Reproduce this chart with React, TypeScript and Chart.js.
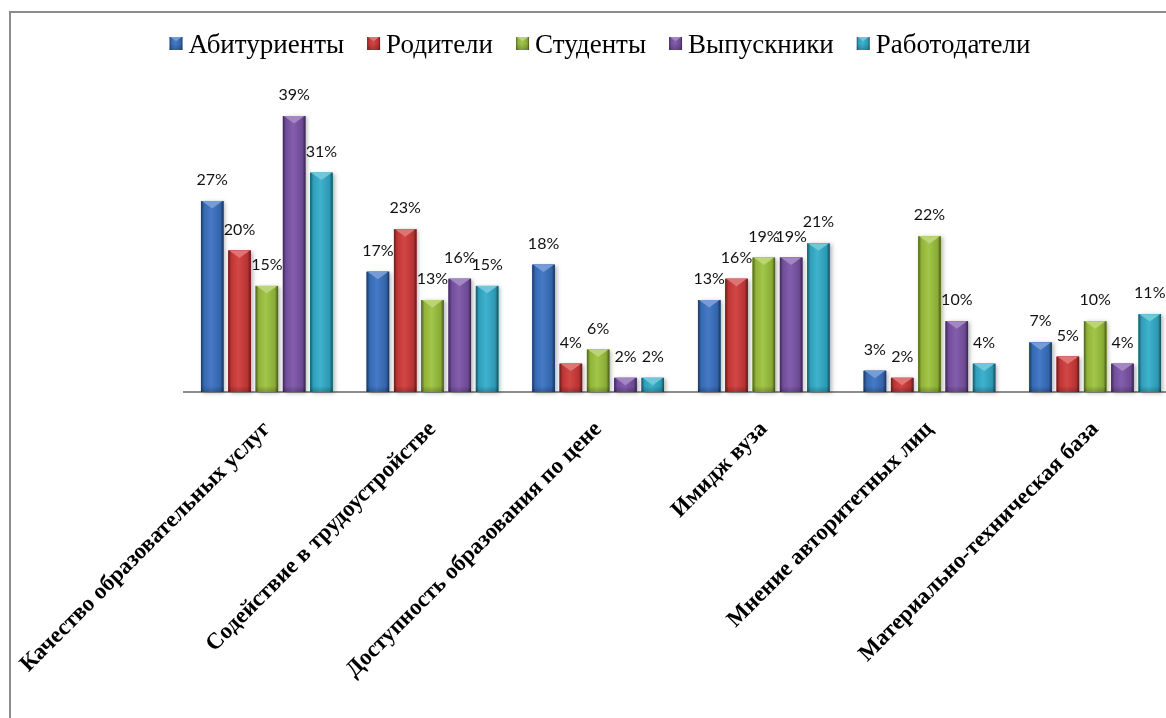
import React, { useEffect, useRef } from 'react';
import { Chart, registerables } from 'chart.js';

Chart.register(...registerables);

const categories = [
  'Качество образовательных услуг',
  'Содействие в трудоустройстве',
  'Доступность образования по цене',
  'Имидж вуза',
  'Мнение авторитетных лиц',
  'Материально-техническая база',
];
const seriesNames = ['Абитуриенты', 'Родители', 'Студенты', 'Выпускники', 'Работодатели'];
const abiturienty = [27, 17, 18, 13, 3, 7];
const roditeli = [20, 23, 4, 16, 2, 5];
const studenty = [15, 13, 6, 19, 22, 10];
const vypuskniki = [39, 16, 2, 19, 10, 4];
const rabotodateli = [31, 15, 2, 21, 4, 11];
const seriesColors = ['#3a72c2', '#d03a3a', '#9cc23d', '#7c54a8', '#33adcb'];
const yMax = 40;

const W = 1180;
const H = 705;
const AREA_BOTTOM = 379;

function shade(hex: string, amt: number) {
  const n = parseInt(hex.slice(1), 16);
  let r = n >> 16, g = (n >> 8) & 255, b = n & 255;
  const t = amt < 0 ? 0 : 255;
  const p = Math.abs(amt);
  r = Math.round(r + (t - r) * p);
  g = Math.round(g + (t - g) * p);
  b = Math.round(b + (t - b) * p);
  return `rgb(${r},${g},${b})`;
}

function drawBevel(ctx: CanvasRenderingContext2D, l: number, t: number, w: number, h: number, c: string) {
  if (h <= 0) return;
  const g = ctx.createLinearGradient(l, 0, l + w, 0);
  g.addColorStop(0, shade(c, -0.5));
  g.addColorStop(0.14, shade(c, -0.08));
  g.addColorStop(0.45, shade(c, 0.06));
  g.addColorStop(0.86, shade(c, -0.12));
  g.addColorStop(1, shade(c, -0.55));
  ctx.fillStyle = g;
  ctx.fillRect(l, t, w, h);
  const d = Math.min(w * 0.33, h);
  ctx.beginPath();
  ctx.moveTo(l + 1, t);
  ctx.lineTo(l + w - 1, t);
  ctx.lineTo(l + w / 2, t + d);
  ctx.closePath();
  ctx.fillStyle = shade(c, 0.3);
  ctx.fill();
  const fh = Math.min(6, h);
  const bg = ctx.createLinearGradient(0, t + h - fh, 0, t + h);
  bg.addColorStop(0, 'rgba(0,0,0,0)');
  bg.addColorStop(1, 'rgba(0,0,0,0.22)');
  ctx.fillStyle = bg;
  ctx.fillRect(l, t + h - fh, w, fh);
}

const bevelPlugin = {
  id: 'bevelBars',
  afterDatasetsDraw(chart: any) {
    const ctx: CanvasRenderingContext2D = chart.ctx;
    ctx.save();
    chart.data.datasets.forEach((ds: any, i: number) => {
      const meta = chart.getDatasetMeta(i);
      meta.data.forEach((el: any) => {
        const { x, y, base, width } = el.getProps(['x', 'y', 'base', 'width'], true);
        const l = x - width / 2;
        const h = base - y;
        ctx.save();
        ctx.shadowColor = 'rgba(0,0,0,0.28)';
        ctx.shadowBlur = 4;
        ctx.shadowOffsetX = 2;
        ctx.shadowOffsetY = 1;
        ctx.fillStyle = seriesColors[i];
        ctx.fillRect(l, y, width, h);
        ctx.restore();
        drawBevel(ctx, l, y, width, h, seriesColors[i]);
      });
    });
    ctx.font = '16px Lato';
    ctx.fillStyle = '#111';
    ctx.textAlign = 'center';
    ctx.textBaseline = 'alphabetic';
    chart.data.datasets.forEach((ds: any, i: number) => {
      const meta = chart.getDatasetMeta(i);
      meta.data.forEach((el: any, j: number) => {
        const { x, y } = el.getProps(['x', 'y'], true);
        ctx.fillText(ds.data[j] + '%', x, y - 16);
      });
    });
    ctx.restore();
  },
};

const legendPlugin = {
  id: 'customLegend',
  afterDraw(chart: any) {
    const ctx: CanvasRenderingContext2D = chart.ctx;
    ctx.save();
    ctx.font = '27px "Liberation Serif"';
    const box = 13, gap = 6, spacing = 23;
    const widths = seriesNames.map((s) => ctx.measureText(s).width);
    const total = widths.reduce((a, b) => a + b, 0) + seriesNames.length * (box + gap) + spacing * (seriesNames.length - 1);
    let x = chart.width / 2 - 1 - total / 2;
    const boxTop = 24;
    const baseline = 40;
    seriesNames.forEach((s, i) => {
      drawBevel(ctx, x, boxTop, box, box, seriesColors[i]);
      ctx.fillStyle = '#000';
      ctx.textAlign = 'left';
      ctx.textBaseline = 'alphabetic';
      ctx.fillText(s, x + box + gap, baseline);
      x += box + gap + widths[i] + spacing;
    });
    ctx.restore();
  },
};

export default function App() {
  const ref = useRef<HTMLCanvasElement>(null);
  useEffect(() => {
    if (!ref.current) return;
    const data = [abiturienty, roditeli, studenty, vypuskniki, rabotodateli];
    const chart = new Chart(ref.current, {
      type: 'bar',
      data: {
        labels: categories,
        datasets: seriesNames.map((name, i) => ({
          label: name,
          data: data[i],
          backgroundColor: seriesColors[i],
          borderWidth: 0,
          categoryPercentage: 0.824,
          barPercentage: 0.824,
        })),
      },
      options: {
        animation: false,
        responsive: false,
        devicePixelRatio: 1,
        layout: { padding: { left: 173, right: 13, top: 96, bottom: 0 } },
        plugins: { legend: { display: false }, tooltip: { enabled: false } },
        scales: {
          x: {
            grid: { display: false },
            border: { display: true, color: '#8c8c8c', width: 2 },
            ticks: {
              color: '#000',
              font: { family: '"Liberation Serif"', size: 23, weight: 'bold' },
              maxRotation: 45,
              minRotation: 45,
              autoSkip: false,
              padding: 16,
            },
            afterFit: (scale: any) => {
              scale.height = H - AREA_BOTTOM;
              scale.paddingLeft = 0;
              scale.paddingRight = 0;
            },
          },
          y: { display: false, min: 0, max: yMax },
        },
      },
      plugins: [bevelPlugin, legendPlugin],
    });
    return () => chart.destroy();
  }, []);

  return (
    <div style={{ position: 'fixed', left: 0, top: 0, width: 1166, height: 718, overflow: 'hidden', background: '#fff' }}>
      <div
        style={{
          position: 'absolute',
          left: 9,
          top: 11,
          width: W,
          height: 740,
          border: '2px solid #8c8c8c',
          background: '#fff',
        }}
      >
        <canvas ref={ref} width={W} height={H} style={{ display: 'block', width: W, height: H }} />
      </div>
    </div>
  );
}
